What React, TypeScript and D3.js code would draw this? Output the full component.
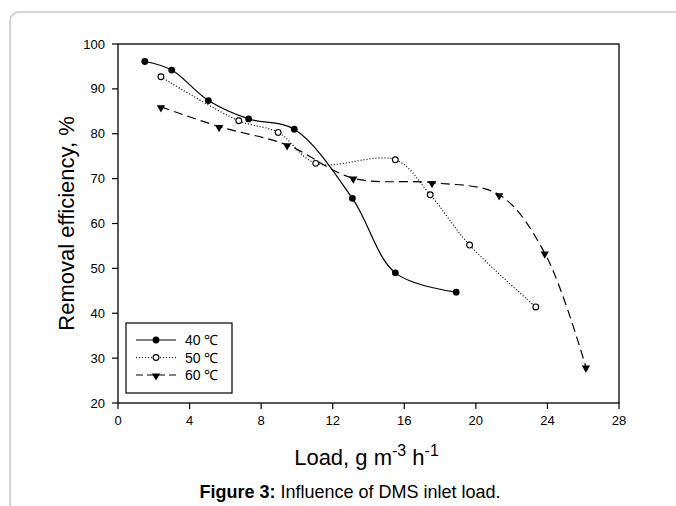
import React from 'react';
import * as d3 from 'd3';

// values
const load40 = [1.5, 3.0, 5.05, 7.3, 9.85, 13.1, 15.5, 18.9];
const eff40 = [96.1, 94.2, 87.4, 83.3, 81.0, 65.6, 49.0, 44.7];
const load50 = [2.4, 6.75, 8.95, 11.05, 15.5, 17.45, 19.65, 23.35];
const eff50 = [92.7, 82.9, 80.3, 73.4, 74.2, 66.4, 55.2, 41.4];
const load60 = [2.4, 5.65, 9.45, 13.15, 17.55, 21.3, 23.85, 26.15];
const eff60 = [86.0, 81.6, 77.5, 70.1, 69.1, 66.4, 53.4, 28.0];
const xTicks = [0, 4, 8, 12, 16, 20, 24, 28];
const yTicks = [20, 30, 40, 50, 60, 70, 80, 90, 100];
const seriesNames = ['40 ℃', '50 ℃', '60 ℃'];

const W = 676, H = 506;
const left = 118, right = 619, top = 44, bottom = 403;
const font = 'Arial, "Liberation Sans", sans-serif';

const x = d3.scaleLinear().domain([0, 28]).range([left, right]);
const y = d3.scaleLinear().domain([20, 100]).range([bottom, top]);

const line = d3.line<[number, number]>()
  .x(d => x(d[0]))
  .y(d => y(d[1]))
  .curve(d3.curveCatmullRom.alpha(0.5));

const zip = (a: number[], b: number[]) => a.map((v, i) => [v, b[i]] as [number, number]);

const series = [
  { name: seriesNames[0], pts: zip(load40, eff40), dash: undefined, marker: 'dot' },
  { name: seriesNames[1], pts: zip(load50, eff50), dash: '1,2', marker: 'ring' },
  { name: seriesNames[2], pts: zip(load60, eff60), dash: '9,5', marker: 'tri' },
];

const tri = d3.symbol().type(d3.symbolTriangle).size(30)() as string;

function Marker({ kind, cx, cy }: { kind: string; cx: number; cy: number }) {
  if (kind === 'dot') return <circle cx={cx} cy={cy} r={3.4} fill="#000" />;
  if (kind === 'ring') return <circle cx={cx} cy={cy} r={2.9} fill="#fff" stroke="#000" strokeWidth={1.1} />;
  return <path d={tri} transform={`translate(${cx},${cy + 0.8}) rotate(180)`} fill="#000" />;
}

export default function App() {
  return (
    <svg width={W} height={H} style={{ position: 'absolute', left: 0, top: 0, background: '#fff' }}>
      <rect x={10} y={12} width={720} height={540} rx={9} fill="#fff" stroke="#c6c6c6" strokeWidth={1.5} />

      {/* frame */}
      <rect x={left} y={top} width={right - left} height={bottom - top} fill="none" stroke="#000" strokeWidth={1.3} />

      {/* y ticks */}
      {yTicks.map(t => (
        <g key={'y' + t}>
          <line x1={left - 6} x2={left} y1={y(t)} y2={y(t)} stroke="#000" strokeWidth={1.2} />
          <text x={left - 13} y={y(t)} dy="0.35em" textAnchor="end" fontFamily={font} fontSize={13}>{t}</text>
        </g>
      ))}
      {/* x ticks */}
      {xTicks.map(t => (
        <g key={'x' + t}>
          <line x1={x(t)} x2={x(t)} y1={bottom} y2={bottom + 6} stroke="#000" strokeWidth={1.2} />
          <text x={x(t)} y={bottom + 22} textAnchor="middle" fontFamily={font} fontSize={13}>{t}</text>
        </g>
      ))}

      {/* series */}
      {series.map(s => (
        <g key={s.name}>
          <path d={line(s.pts) as string} fill="none" stroke="#000" strokeWidth={1.2} strokeDasharray={s.dash} />
          {s.pts.map((p, i) => <Marker key={i} kind={s.marker} cx={x(p[0])} cy={y(p[1])} />)}
        </g>
      ))}

      {/* legend */}
      <rect x={126} y={323} width={106} height={70} fill="#fff" stroke="#000" strokeWidth={1.2} />
      {series.map((s, i) => {
        const ly = 340 + i * 17.5;
        return (
          <g key={'lg' + i}>
            <line x1={136} x2={176} y1={ly} y2={ly} stroke="#000" strokeWidth={1.2}
              strokeDasharray={s.dash === '9,5' ? '7,4' : s.dash} />
            <Marker kind={s.marker} cx={156} cy={ly} />
            <text x={185} y={ly} dy="0.36em" fontFamily={font} fontSize={14}>{s.name}</text>
          </g>
        );
      })}

      {/* axis titles */}
      <text transform={`translate(74,${(top + bottom) / 2}) rotate(-90)`} textAnchor="middle"
        fontFamily={font} fontSize={22}>Removal efficiency, %</text>
      <text x={(left + right) / 2 - 2} y={465} textAnchor="middle" fontFamily={font} fontSize={22}>
        Load, g m<tspan dy={-9} fontSize={16}>-3</tspan><tspan dy={9}> h</tspan><tspan dy={-9} fontSize={16}>-1</tspan>
      </text>

      <text x={350} y={498} textAnchor="middle" fontFamily={font} fontSize={18}>
        <tspan fontWeight="bold">Figure 3:</tspan> Influence of DMS inlet load.
      </text>
    </svg>
  );
}
